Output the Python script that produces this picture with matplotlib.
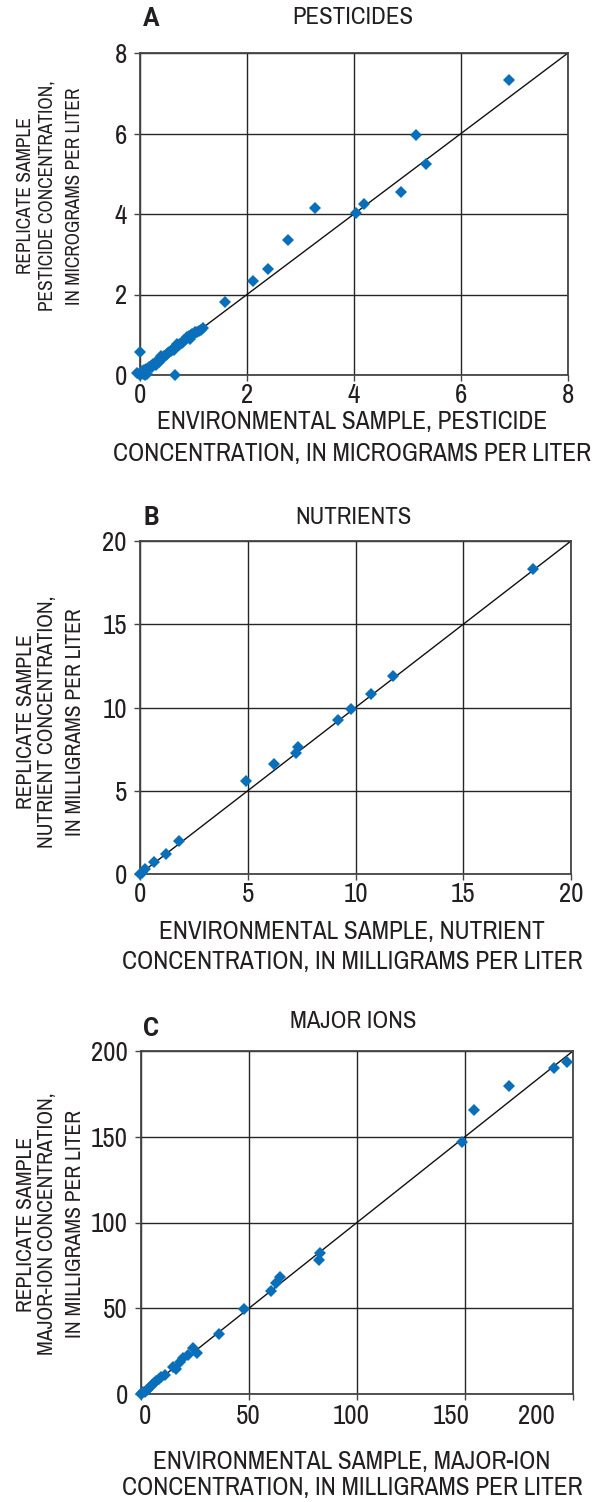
import matplotlib
matplotlib.use("Agg")
import matplotlib.pyplot as plt
from matplotlib import font_manager as fm
from matplotlib.font_manager import FontProperties
from matplotlib.textpath import TextPath

W, H = 596, 1502

# pick a narrow sans if one is installed, the reference uses a condensed face
families = {f.name for f in fm.fontManager.ttflist}
narrow = [n for n in sorted(families) if "Narrow" in n or "Condensed" in n]
stretchy = sorted({f.name for f in fm.fontManager.ttflist
                   if str(f.stretch) in ("condensed", "semi-condensed", "extra-condensed")
                   or (isinstance(f.stretch, int) and f.stretch < 500)})
if "Liberation Sans Narrow" in families:
    base = "Liberation Sans Narrow"
elif narrow:
    base = narrow[0]
elif stretchy:
    base = stretchy[0]
    plt.rcParams['font.stretch'] = 'condensed'
else:
    base = "Liberation Sans"
plt.rcParams['font.family'] = [base, 'DejaVu Sans']

# bold face for the panel letters
has_bold = any(f.name == base and (f.weight in ("bold", "heavy", "black") or
                                   (isinstance(f.weight, int) and f.weight >= 600))
               for f in fm.fontManager.ttflist)
letter_family = [base, 'DejaVu Sans'] if has_bold else ['Roboto', 'DejaVu Sans']

# Panel A - pesticides (environmental, replicate), micrograms per liter
pest_env = [6.90, 5.16, 5.35, 4.88, 4.19, 4.03, 3.28, 2.76, 2.40, 2.12, 1.59,
            0.00, 0.65, 0.10, 0.14, -0.05,
            0.00, 0.02, 0.03, 0.05, 0.06, 0.08, 0.10, 0.12, 0.15, 0.17, 0.20,
            0.22, 0.25, 0.28, 0.30, 0.33, 0.35, 0.38, 0.40, 0.42, 0.45, 0.48,
            0.50, 0.53, 0.55, 0.58, 0.60, 0.63, 0.65, 0.68, 0.70, 0.73, 0.75,
            0.78, 0.80, 0.83, 0.86, 0.88, 0.93, 0.92, 0.95, 0.98, 1.00, 1.03,
            1.06, 1.10, 1.14, 1.18]
pest_rep = [7.33, 5.96, 5.24, 4.54, 4.24, 4.03, 4.16, 3.35, 2.63, 2.34, 1.81,
            0.56, 0.00, 0.00, 0.02, 0.05,
            0.00, 0.05, 0.10, 0.02, 0.08, 0.12, 0.10, 0.15, 0.14, 0.20, 0.22,
            0.19, 0.27, 0.30, 0.26, 0.35, 0.33, 0.42, 0.47, 0.40, 0.47, 0.50,
            0.52, 0.55, 0.58, 0.60, 0.63, 0.62, 0.70, 0.72, 0.76, 0.75, 0.78,
            0.80, 0.82, 0.86, 0.90, 0.95, 0.89, 0.97, 1.00, 1.02, 1.03, 1.06,
            1.08, 1.10, 1.13, 1.16]

# Panel B - nutrients, milligrams per liter
nut_env = [18.25, 11.75, 10.70, 9.80, 9.20, 7.35, 7.25, 6.20, 4.92, 1.82,
           1.20, 0.65, 0.23, 0.10, 0.00]
nut_rep = [18.30, 11.90, 10.80, 9.90, 9.25, 7.65, 7.25, 6.60, 5.56, 2.00,
           1.18, 0.70, 0.28, 0.05, 0.00]

# Panel C - major ions, milligrams per liter
ion_env = [197.4, 191.0, 170.6, 154.3, 148.5, 83.0, 82.4, 64.4, 62.6, 60.4,
           47.7, 36.2, 25.7, 24.1, 21.8, 19.4, 17.9, 14.8, 16.0, 10.9, 9.4,
           8.2, 7.1, 6.0, 5.0, 4.2, 3.4, 2.6, 1.9, 1.0, 0.3, 0.0]
ion_rep = [193.8, 189.9, 179.8, 165.6, 147.1, 82.4, 78.1, 68.0, 64.5, 60.1,
           49.4, 35.0, 23.7, 26.6, 22.7, 20.8, 18.8, 15.9, 14.4, 11.1, 9.7,
           8.6, 7.8, 6.3, 5.0, 4.0, 3.0, 2.4, 1.4, 1.1, 0.5, 0.0]

pest_ticks = [0, 2, 4, 6, 8]
nut_ticks = [0, 5, 10, 15, 20]
ion_ticks = [0, 50, 100, 150, 200]

panels = [
    dict(letter="A", title="PESTICIDES", x=pest_env, y=pest_rep,
         lim=8, ticks=pest_ticks, label_at=None,
         box=(140, 53, 568, 375),
         ylabel=["REPLICATE SAMPLE", "PESTICIDE CONCENTRATION,",
                 "IN MICROGRAMS PER LITER"],
         xlabel=["ENVIRONMENTAL SAMPLE, PESTICIDE",
                 "CONCENTRATION, IN MICROGRAMS PER LITER"],
         title_y=17, letter_y=19, ylab_y=196, ylab_len=242, xlab_y=(422, 453)),
    dict(letter="B", title="NUTRIENTS", x=nut_env, y=nut_rep,
         lim=20, ticks=nut_ticks, label_at=None,
         box=(140, 541, 571, 874),
         ylabel=["REPLICATE SAMPLE", "NUTRIENT CONCENTRATION,",
                 "IN MILLIGRAMS PER LITER"],
         xlabel=["ENVIRONMENTAL SAMPLE, NUTRIENT",
                 "CONCENTRATION, IN MILLIGRAMS PER LITER"],
         title_y=517, letter_y=518, ylab_y=722, ylab_len=291, xlab_y=(931, 961)),
    dict(letter="C", title="MAJOR IONS", x=ion_env, y=ion_rep,
         lim=200, ticks=ion_ticks, label_at=[2, 49.5, 97.4, 143.7, 183],
         box=(141, 1051, 573, 1394),
         ylabel=["REPLICATE SAMPLE", "MAJOR-ION CONCENTRATION,",
                 "IN MILLIGRAMS PER LITER"],
         xlabel=["ENVIRONMENTAL SAMPLE, MAJOR-ION",
                 "CONCENTRATION, IN MILLIGRAMS PER LITER"],
         title_y=1022, letter_y=1029, ylab_y=1224, ylab_len=303, xlab_y=(1462, 1488)),
]

TXT = "#231f20"
fig = plt.figure(figsize=(W / 100, H / 100), dpi=100)
renderer = fig.canvas.get_renderer()


def fx(px):
    return px / W


def fy(py):
    return 1 - py / H


def size_for_height(target_px, s="E", **kw):
    # font size (pt) that gives glyphs of s the wanted height in pixels
    tp = TextPath((0, 0), s, size=10, prop=FontProperties(**kw))
    h = tp.get_extents().height * 100 / 72
    return 10 * target_px / h


def size_for_width(s, target_px):
    t = fig.text(0, 0, s, fontsize=10)
    w = t.get_window_extent(renderer).width
    t.remove()
    return 10 * target_px / w


tick_fs = size_for_height(16.5, "E") * 1.12
title_fs = size_for_height(17, "E")
letter_fs = size_for_height(17.5, "B", family=letter_family, weight="bold")
xlab_fs = size_for_height(17.4, "E")
ylab_h_fs = size_for_height(12.6, "E")

for p in panels:
    l, t, r, b = p["box"]
    ax = fig.add_axes([fx(l), fy(b), (r - l) / W, (b - t) / H])
    ax.set_xlim(0, p["lim"])
    ax.set_ylim(0, p["lim"])
    ax.set_xticks(p["ticks"])
    ax.set_yticks(p["ticks"])
    ax.grid(True, color="#262626", linewidth=1.0)
    ax.set_axisbelow(True)
    for s in ax.spines.values():
        s.set_color("#444444")
        s.set_linewidth(1.3)
    ax.tick_params(direction="out", length=4, width=1, color="#444444",
                   labelsize=tick_fs, labelcolor=TXT)
    ax.tick_params(axis="x", pad=1.5)
    ax.tick_params(axis="y", pad=5.5)
    if p["label_at"] is not None:
        # the x labels of this panel sit off the grid lines in the original
        ax.tick_params(axis="x", labelbottom=False)
        for xv, tv in zip(p["label_at"], p["ticks"]):
            ax.text(xv, -23 / (b - t), str(tv), transform=ax.get_xaxis_transform(),
                    ha="center", va="center", fontsize=tick_fs, color=TXT)
    # 1:1 line
    ax.plot([0, p["lim"]], [0, p["lim"]], color="#111111", linewidth=1.0)
    ax.plot(p["x"], p["y"], linestyle="none", marker="D", markersize=6,
            color="#0a6fba", markeredgewidth=0, clip_on=False, zorder=5)

    fig.text(fx(151), fy(p["letter_y"]), p["letter"], fontsize=letter_fs,
             family=letter_family, fontweight="bold", ha="center", va="center",
             color=TXT)
    fig.text(fx(353), fy(p["title_y"]), p["title"], fontsize=title_fs,
             ha="center", va="center", color=TXT)

    # halfway between matching the letter height and the line length
    ylab_fs = 0.5 * (ylab_h_fs + size_for_width(p["ylabel"][1], p["ylab_len"]))
    for xc, line in zip([26, 47, 75], p["ylabel"]):
        fig.text(fx(xc), fy(p["ylab_y"]), line, fontsize=ylab_fs, rotation=90,
                 ha="center", va="center", color=TXT)

    for yc, line in zip(p["xlab_y"], p["xlabel"]):
        fig.text(fx(352), fy(yc), line, fontsize=xlab_fs,
                 ha="center", va="center", color=TXT)

fig.savefig("out.png", dpi=100)
